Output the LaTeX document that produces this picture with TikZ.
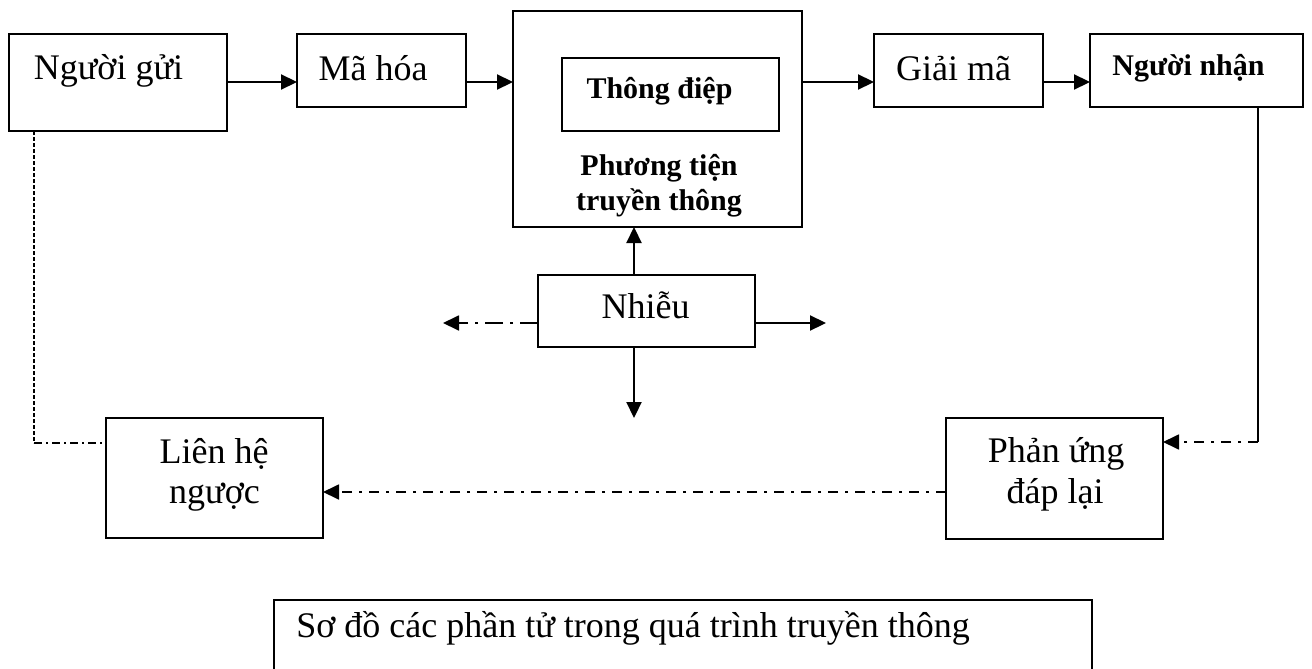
\documentclass[tikz,border=0pt]{standalone}
\usepackage{fontspec}
\setmainfont{Liberation Serif}
\usetikzlibrary{arrows.meta}
\begin{document}
\begin{tikzpicture}[x=0.5pt,y=-0.5pt,
  box/.style={draw,line width=1pt,rectangle,inner sep=0pt,outer sep=0pt},
  txt/.style={anchor=base,inner sep=0pt,font=\fontsize{18}{21}\selectfont},
  btxt/.style={anchor=base,inner sep=0pt,font=\fontsize{15}{18}\selectfont\bfseries},
  tip/.style={-{Triangle[length=8pt,width=7.5pt]}},
  flow/.style={line width=1.1pt,tip},
  finedash/.style={line width=0.8pt,dash pattern=on 2pt off 1pt},
  shortdashdot/.style={line width=0.8pt,dash pattern=on 4pt off 2pt on 1pt off 2pt},
  longdashdot/.style={line width=0.9pt,dash pattern=on 5pt off 3.5pt on 1.5pt off 3.5pt},
  noisedashdot/.style={line width=0.9pt,dash pattern=on 9pt off 3.5pt on 1.5pt off 3.5pt},
]
\useasboundingbox (0,0) rectangle (1312,669);

% boxes
\node[box,minimum width=109pt,minimum height=48.5pt] (sender)   at (118,82.5)   {};
\node[box,minimum width=84.5pt,minimum height=36.5pt] (encode)  at (381.5,70.5) {};
\node[box,minimum width=144.5pt,minimum height=108pt] (medium)  at (657.5,119)  {};
\node[box,minimum width=108.5pt,minimum height=36.5pt] (message) at (670.5,94.5) {};
\node[box,minimum width=84.5pt,minimum height=36.5pt] (decode)  at (958.5,70.5) {};
\node[box,minimum width=106.5pt,minimum height=36.5pt] (receiver) at (1196.5,70.5) {};
\node[box,minimum width=108.5pt,minimum height=36pt] (noise)    at (646.5,311)  {};
\node[box,minimum width=108.5pt,minimum height=60pt] (feedback) at (214.5,478)  {};
\node[box,minimum width=108.5pt,minimum height=60.5pt] (response) at (1054.5,478.5) {};
\node[box,minimum width=409pt,minimum height=50pt] (caption)   at (683,650)    {};

% labels
\node[txt] (tsender)   at (108.5,79) {Người gửi};
\node[txt] (tencode)   at (373,80)   {Mã hóa};
\node[btxt] (tmessage) at (659.5,98) {Thông điệp};
\node[btxt] (tmedium1) at (659,175)  {Phương tiện};
\node[btxt] (tmedium2) at (659,210)  {truyền thông};
\node[txt] (tdecode)   at (953.5,80) {Giải mã};
\node[btxt] (treceiver) at (1188.5,75) {Người nhận};
\node[txt] (tnoise)    at (645.5,318) {Nhiễu};
\node[txt] (tfeed1)    at (214,463)  {Liên hệ};
\node[txt] (tfeed2)    at (214.5,503) {ngược};
\node[txt] (tresp1)    at (1056,462) {Phản ứng};
\node[txt] (tresp2)    at (1055,503) {đáp lại};
\node[txt,anchor=base west] (tcaption) at (296,637) {Sơ đồ các phần tử trong quá trình truyền thông};

% reference points for the connectors
\coordinate (row) at (0,82);
\coordinate (nx) at (634,0);
\coordinate (ny) at (0,323);
\coordinate (leftend) at (443,323);
\coordinate (rightend) at (826,323);
\coordinate (downend) at (634,418);
\coordinate (lcorner) at (34,443);
\coordinate (rcorner) at (1258,442);
\coordinate (back) at (0,492);

% main chain
\draw[flow] (sender.east |- row) -- (encode.west |- row);
\draw[flow] (encode.east |- row) -- (medium.west |- row);
\draw[flow] (medium.east |- row) -- (decode.west |- row);
\draw[flow] (decode.east |- row) -- (receiver.west |- row);

% noise
\draw[flow] (noise.north -| nx) -- (medium.south -| nx);
\draw[flow] (noise.south -| nx) -- (downend);
\draw[flow] (noise.east |- ny) -- (rightend);
\draw[noisedashdot,tip] (noise.west |- ny) -- (leftend);

% return path
\draw[line width=1pt] (receiver.south -| rcorner) -- (rcorner);
\draw[longdashdot,tip] (rcorner) -- (response.east |- rcorner);
\draw[longdashdot,tip] (response.west |- back) -- (feedback.east |- back);
\draw[finedash] (sender.south -| lcorner) -- (lcorner);
\draw[shortdashdot] (lcorner) -- (feedback.west |- lcorner);
\end{tikzpicture}
\end{document}
